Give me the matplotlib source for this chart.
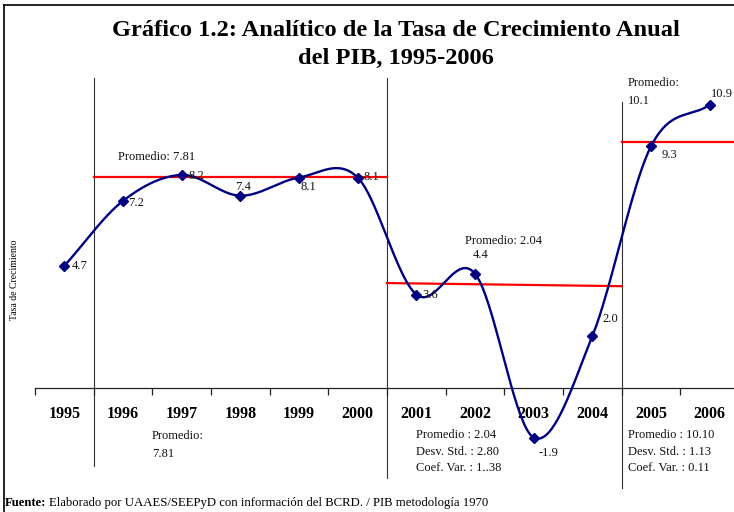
import matplotlib
matplotlib.use("Agg")
import matplotlib.pyplot as plt
from matplotlib.lines import Line2D
import numpy as np

plt.rcParams["font.family"] = ["Liberation Serif", "DejaVu Serif"]

# ── datos ─────────────────────────────────────────────────────────────
years = ["1995", "1996", "1997", "1998", "1999", "2000",
         "2001", "2002", "2003", "2004", "2005", "2006"]
tasa = [4.7, 7.2, 8.2, 7.4, 8.1, 8.1, 3.6, 4.4, -1.9, 2.0, 9.3, 10.9]
labels = ["4.7", "7.2", "8.2", "7.4", "8.1", "8.1",
          "3.6", "4.4", "-1.9", "2.0", "9.3", "10.9"]
# desplazamiento de cada etiqueta (px) y alineación
label_off = [(7, 0, "left"), (5, -2, "left"), (7, -1, "left"), (3, 9, "center"),
             (9, -10, "center"), (6, 0, "left"), (6, 0, "left"), (6, 19, "center"),
             (15, -16, "center"), (10, 17, "left"), (19, -9, "center"), (1, 11, "left")]

# líneas de promedio tal como aparecen en el gráfico (x en índice de categoría)
prom_x = [(0.5, 5.5), (5.5, 9.5), (9.5, 11.6)]
prom_y = [(8.12, 8.12), (4.04, 3.92), (9.46, 9.46)]
# separadores verticales de períodos
sep_x = [0.5, 5.5, 9.5]
sep_y = [(11.92, -3.0), (11.92, -3.46), (11.0, -3.85)]

W, H = 734, 512


def fx(px):
    return px / W


def fy(py):
    return 1 - py / H


def catmull_rom(x, y, n=40):
    """Curva suavizada estilo Excel (Catmull-Rom)."""
    x = np.asarray(x, float)
    y = np.asarray(y, float)
    px = np.concatenate([[2 * x[0] - x[1]], x, [2 * x[-1] - x[-2]]])
    py = np.concatenate([[2 * y[0] - y[1]], y, [2 * y[-1] - y[-2]]])
    xs, ys = [], []
    t = np.linspace(0, 1, n)
    for i in range(1, len(px) - 2):
        for arr, out in ((px, xs), (py, ys)):
            p0, p1, p2, p3 = arr[i - 1], arr[i], arr[i + 1], arr[i + 2]
            m1 = (p2 - p0) / 2
            m2 = (p3 - p1) / 2
            h00 = 2 * t**3 - 3 * t**2 + 1
            h10 = t**3 - 2 * t**2 + t
            h01 = -2 * t**3 + 3 * t**2
            h11 = t**3 - t**2
            out.append(h00 * p1 + h10 * m1 + h01 * p2 + h11 * m2)
    return np.concatenate(xs), np.concatenate(ys)


fig = plt.figure(figsize=(W / 100, H / 100), dpi=100, facecolor="white")
ax = fig.add_axes([fx(35), fy(470), (739 - 35) / W, 390 / H])
ax.set_xlim(-0.5, 11.5)
ax.set_ylim(-3.15, 11.85)
ax.patch.set_alpha(0)

for s in ("left", "right", "top"):
    ax.spines[s].set_visible(False)
ax.spines["bottom"].set_position(("data", 0))
ax.spines["bottom"].set_linewidth(0.9)
ax.spines["bottom"].set_color("#222222")
ax.set_yticks([])

idx = np.arange(len(years))
ax.set_xticks(np.arange(-0.5, 12, 1))
ax.set_xticklabels([])
ax.tick_params(axis="x", which="major", length=5, width=0.9, color="#222222")
ax.set_xticks(idx, minor=True)
ax.set_xticklabels(years, minor=True, fontsize=11.5, fontweight="bold")
ax.tick_params(axis="x", which="minor", length=0, pad=13)

# separadores
for x0, (y0, y1) in zip(sep_x, sep_y):
    ax.plot([x0, x0], [y0, y1], color="#333333", lw=0.8, clip_on=False, zorder=1)

# promedios
for (x0, x1), (y0, y1) in zip(prom_x, prom_y):
    ax.plot([x0, x1], [y0, y1], color="#ff0000", lw=1.6, clip_on=False, zorder=2)

# curva suavizada
sx, sy = catmull_rom(idx, tasa)
ax.plot(sx, sy, color="#000080", lw=1.7, clip_on=False, zorder=3)
ax.plot(idx, tasa, linestyle="none", marker="D", markersize=5,
        color="#000080", clip_on=False, zorder=4)

for i, (v, lab) in enumerate(zip(tasa, labels)):
    dx, dy, ha = label_off[i]
    ax.annotate(lab, (i, v), xytext=(dx, dy), textcoords="offset pixels",
                ha=ha, va="center", fontsize=9, color="#111111", zorder=5)

# títulos y textos
fig.text(fx(396), fy(30), "Gráfico 1.2: Analítico de la Tasa de Crecimiento Anual",
         ha="center", va="center", fontsize=17.6, fontweight="bold")
fig.text(fx(396), fy(58), "del PIB, 1995-2006",
         ha="center", va="center", fontsize=17.6, fontweight="bold")

fig.text(fx(15), fy(280), "Tasa de Crecimiento", rotation=90,
         ha="center", va="center", fontsize=7)

notes = [
    (118, 157, "Promedio: 7.81"),
    (152, 436, "Promedio:"),
    (152, 454, "7.81"),
    (465, 241, "Promedio: 2.04"),
    (416, 435, "Promedio : 2.04"),
    (416, 452, "Desv. Std. : 2.80"),
    (416, 468, "Coef. Var. : 1..38"),
    (628, 435, "Promedio : 10.10"),
    (628, 452, "Desv. Std. : 1.13"),
    (628, 468, "Coef. Var. : 0.11"),
    (628, 83, "Promedio:"),
    (628, 101, "10.1"),
]
for x, y, t in notes:
    fig.text(fx(x), fy(y), t, ha="left", va="center", fontsize=9, color="#111111")

# fuente: parte en negrita seguida del resto
fuente = fig.text(fx(5), fy(503), "Fuente:", ha="left", va="center",
                  fontsize=9.2, fontweight="bold")
renderer = fig.canvas.get_renderer()
bb = fuente.get_window_extent(renderer)
fig.text((bb.x1 + 3) / W, fy(503),
         "Elaborado por UAAES/SEEPyD con información del BCRD. / PIB metodología 1970",
         ha="left", va="center", fontsize=9.2)

# marco
fig.add_artist(Line2D([fx(4), fx(4)], [fy(5), 0], color="black", lw=1.2))
fig.add_artist(Line2D([fx(4), 1], [fy(5), fy(5)], color="black", lw=1.2))

fig.savefig("out.png", dpi=100, facecolor="white")
